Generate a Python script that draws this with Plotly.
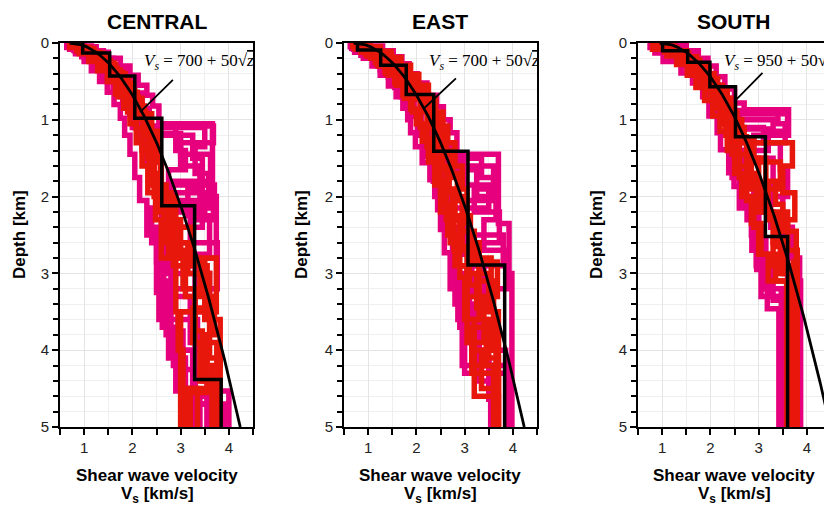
import numpy as np
import plotly.graph_objects as go

PINK = "#e6007e"
RED = "#e8170c"
SANS = "Liberation Sans, Arial, sans-serif"
SERIF = "Liberation Serif, Times New Roman, serif"

panels = ["CENTRAL", "EAST", "SOUTH"]
formula_a = [700, 700, 950]   # Vs = a + b*sqrt(z)  (m/s, z in m)
formula_b = [50, 50, 50]
formula_text = ["700", "700", "950"]

# ---- representative (black) step profiles: layer tops [km], velocities [km/s]
black_z = [
    [0, 0.13, 0.43, 0.98, 2.12, 4.38],
    [0, 0.09, 0.29, 0.67, 1.41, 2.89],
    [0, 0.10, 0.25, 0.57, 1.22, 2.52],
]
black_v = [
    [0.97, 1.53, 2.05, 2.61, 3.29, 3.84],
    [0.78, 1.26, 1.79, 2.36, 3.07, 3.83],
    [1.01, 1.53, 1.99, 2.52, 3.14, 3.60],
]

# ---- CENTRAL profiles
central_pink_z = [
    [0, 0.06, 0.14, 0.24, 0.36, 0.5, 0.64, 0.8, 0.98, 1.2, 1.45, 1.75, 2.05, 2.5, 3.25, 3.7, 4.2, 4.65],
    [0, 0.05, 0.12, 0.2, 0.3, 0.42, 0.55, 0.68, 0.82, 1.05, 2.0, 2.8],
    [0, 0.08, 0.18, 0.3, 0.45, 0.62, 0.85, 1.1, 1.35, 1.7, 2.1, 2.45, 3.1, 3.8, 4.53],
    [0, 0.1, 0.22, 0.35, 0.5, 0.7, 0.92, 1.2, 1.5, 1.9, 2.25, 2.75, 3.3, 3.9, 4.4],
    [0, 0.04, 0.1, 0.2, 0.33, 0.48, 0.65, 0.85, 1.08, 1.3, 1.6, 2.0, 2.3, 2.9, 3.4, 4.1, 4.6],
    [0, 0.07, 0.16, 0.27, 0.4, 0.58, 0.78, 1.0, 1.25, 1.55, 1.85, 2.15, 2.6, 3.2, 3.6, 4.0, 4.5],
    [0, 0.05, 0.13, 0.22, 0.34, 0.47, 0.6, 0.75, 0.92, 1.1, 1.4, 1.65, 1.95, 2.2, 2.7, 3.0, 3.5, 4.0, 4.7],
    [0, 0.09, 0.2, 0.32, 0.46, 0.6, 0.78, 0.96, 1.18, 1.45, 1.8, 2.05, 2.4, 2.85, 3.3, 3.75, 4.25, 4.7],
]
central_pink_v = [
    [0.64, 0.82, 1.0, 1.15, 1.32, 1.48, 1.62, 1.75, 1.84, 1.95, 2.05, 2.15, 2.3, 2.5, 2.62, 2.85, 3.02, 3.4],
    [1.0, 1.25, 1.5, 1.75, 1.95, 2.12, 2.3, 2.42, 2.55, 3.66, 3.74, 3.3],
    [0.7, 0.95, 1.2, 1.4, 1.62, 1.82, 2.0, 3.5, 3.3, 3.58, 2.6, 2.55, 2.7, 2.9, 4.0],
    [0.8, 1.1, 1.35, 1.55, 1.75, 1.95, 2.15, 3.25, 3.45, 3.15, 3.6, 2.8, 3.2, 3.45, 3.55],
    [0.9, 1.15, 1.4, 1.6, 1.85, 2.0, 2.2, 2.35, 3.68, 3.0, 3.4, 3.68, 3.2, 2.6, 2.75, 3.1, 3.55],
    [0.72, 0.98, 1.22, 1.42, 1.6, 1.8, 1.98, 2.12, 2.25, 2.45, 3.7, 2.4, 3.76, 2.55, 3.35, 3.0, 3.2],
    [0.68, 0.9, 1.1, 1.3, 1.5, 1.68, 1.85, 1.95, 2.05, 2.9, 3.1, 2.75, 3.5, 2.65, 2.7, 3.6, 2.95, 3.25, 3.65],
    [0.78, 1.02, 1.28, 1.5, 1.7, 1.88, 2.05, 2.2, 3.0, 3.62, 2.85, 3.45, 2.5, 2.65, 2.8, 3.05, 3.3, 3.9],
]
central_red_z = [
    [0, 0.06, 0.14, 0.24, 0.36, 0.5, 0.66, 0.85, 1.05, 1.3, 1.6, 1.95, 2.3, 2.8, 3.5, 4.0, 4.5],
    [0, 0.05, 0.12, 0.2, 0.32, 0.46, 0.62, 0.8, 1.0, 1.3, 1.7, 2.1, 2.8, 3.5, 4.1],
    [0, 0.08, 0.17, 0.28, 0.42, 0.58, 0.76, 0.95, 1.2, 1.55, 1.9, 2.3, 2.75, 3.3, 3.9, 4.55],
    [0, 0.04, 0.1, 0.18, 0.28, 0.4, 0.55, 0.72, 0.92, 1.15, 1.5, 2.0, 2.4, 2.85, 3.6, 4.2],
    [0, 0.1, 0.2, 0.34, 0.5, 0.7, 0.9, 1.1, 1.4, 1.8, 2.2, 2.7, 3.2, 3.75, 4.35],
    [0, 0.07, 0.15, 0.26, 0.38, 0.52, 0.7, 0.9, 1.15, 1.45, 1.85, 2.25, 2.9, 3.5, 4.5],
    [0, 0.05, 0.11, 0.2, 0.3, 0.44, 0.6, 0.78, 0.98, 1.2, 1.5, 1.85, 2.2, 2.6, 3.0, 3.45, 3.9, 4.4],
    [0, 0.06, 0.13, 0.23, 0.35, 0.48, 0.64, 0.82, 1.02, 1.25, 1.55, 1.95, 2.35, 2.8, 3.3, 3.8, 4.5],
]
central_red_v = [
    [0.7, 0.9, 1.1, 1.28, 1.48, 1.65, 1.82, 1.95, 2.08, 2.2, 2.32, 2.48, 2.6, 2.9, 2.95, 3.05, 3.0],
    [0.8, 1.05, 1.3, 1.5, 1.68, 1.88, 2.05, 2.2, 2.35, 2.45, 2.55, 2.75, 3.74, 3.6, 3.82],
    [0.9, 1.15, 1.35, 1.58, 1.78, 1.95, 2.15, 2.3, 2.5, 2.6, 2.65, 3.0, 3.1, 3.3, 3.75, 3.1],
    [0.75, 0.95, 1.2, 1.45, 1.65, 1.85, 2.0, 2.2, 2.4, 2.55, 2.45, 2.9, 3.25, 3.5, 3.82, 3.65],
    [0.85, 1.1, 1.32, 1.52, 1.7, 1.9, 2.08, 2.2, 2.35, 2.5, 2.8, 3.05, 3.3, 3.45, 3.7],
    [0.95, 1.2, 1.42, 1.62, 1.8, 1.98, 2.12, 2.28, 2.4, 2.58, 2.7, 2.85, 3.55, 3.0, 3.35],
    [0.78, 1.0, 1.22, 1.45, 1.6, 1.78, 1.95, 2.1, 2.22, 2.32, 2.42, 2.6, 2.7, 3.15, 3.6, 3.25, 3.4, 3.75],
    [0.88, 1.12, 1.38, 1.55, 1.75, 1.92, 2.1, 2.25, 2.38, 2.5, 2.6, 2.8, 2.95, 3.4, 3.7, 3.55, 3.2],
]

# ---- EAST profiles
east_pink_z = [
    [0, 0.05, 0.12, 0.2, 0.3, 0.42, 0.56, 0.7, 0.85, 1.0, 1.17, 1.35, 1.56, 1.78, 2.0, 2.17, 2.43, 2.73, 2.95, 3.6, 3.86, 4.16, 4.64],
    [0, 0.04, 0.1, 0.18, 0.27, 0.4, 0.52, 0.68, 0.83, 1.0, 1.17, 1.45, 2.35, 3.0],
    [0, 0.08, 0.18, 0.3, 0.45, 0.6, 0.78, 0.95, 1.15, 1.5, 1.75, 2.05, 2.3, 2.75, 3.2, 3.7, 4.2],
    [0, 0.06, 0.14, 0.24, 0.36, 0.5, 0.66, 0.85, 1.05, 1.3, 1.6, 1.9, 2.2, 2.6, 3.3, 3.8, 4.3],
    [0, 0.1, 0.2, 0.35, 0.5, 0.7, 0.9, 1.1, 1.4, 1.7, 2.0, 2.4, 2.9, 3.4, 4.0],
    [0, 0.07, 0.16, 0.28, 0.42, 0.58, 0.75, 0.95, 1.2, 1.48, 1.8, 2.1, 2.5, 3.0, 3.5, 4.1, 4.6],
    [0, 0.05, 0.13, 0.22, 0.33, 0.46, 0.6, 0.76, 0.92, 1.1, 1.3, 1.55, 1.85, 2.15, 2.5, 2.9, 3.4, 3.9, 4.4],
    [0, 0.06, 0.15, 0.26, 0.38, 0.52, 0.68, 0.88, 1.1, 1.35, 1.65, 2.0, 2.3, 2.7, 3.2, 3.7, 4.2],
]
east_pink_v = [
    [0.63, 0.72, 0.9, 1.08, 1.25, 1.42, 1.58, 1.72, 1.82, 1.88, 1.98, 2.12, 2.28, 2.38, 2.44, 2.5, 2.58, 2.72, 2.86, 2.99, 3.16, 3.5, 3.54],
    [1.0, 1.3, 1.52, 1.7, 1.85, 2.02, 2.22, 2.42, 2.56, 2.7, 2.84, 3.7, 3.92, 3.98],
    [0.7, 0.95, 1.2, 1.42, 1.62, 1.8, 1.95, 2.1, 2.3, 3.35, 3.6, 2.6, 3.05, 2.7, 3.1, 2.95, 3.6],
    [0.85, 1.15, 1.38, 1.6, 1.78, 1.98, 2.15, 2.35, 2.5, 2.7, 3.6, 3.2, 3.72, 3.15, 3.3, 3.0, 3.9],
    [0.75, 1.0, 1.25, 1.48, 1.68, 1.85, 2.02, 2.2, 2.4, 2.55, 2.7, 2.85, 3.4, 3.2, 3.85],
    [0.66, 0.85, 1.1, 1.35, 1.55, 1.75, 1.9, 2.05, 2.2, 2.35, 2.45, 2.6, 2.75, 2.95, 3.3, 3.5, 3.58],
    [0.7, 0.9, 1.15, 1.32, 1.5, 1.68, 1.82, 1.95, 2.05, 2.18, 2.35, 3.0, 3.5, 2.75, 3.8, 2.8, 3.05, 3.3, 3.55],
    [0.9, 1.2, 1.45, 1.65, 1.82, 2.02, 2.2, 2.38, 2.55, 2.72, 3.25, 3.65, 3.4, 3.9, 2.9, 3.15, 3.95],
]
east_red_z = [
    [0, 0.05, 0.12, 0.2, 0.3, 0.42, 0.55, 0.7, 0.87, 1.05, 1.25, 1.5, 1.8, 2.1, 2.5, 2.9, 3.6, 4.2],
    [0, 0.04, 0.1, 0.18, 0.28, 0.4, 0.53, 0.68, 0.84, 1.02, 1.22, 1.45, 1.75, 2.05, 2.45, 2.85, 3.3, 3.85],
    [0, 0.06, 0.14, 0.24, 0.35, 0.48, 0.62, 0.78, 0.95, 1.15, 1.4, 1.7, 2.0, 2.35, 2.8, 3.3, 3.9],
    [0, 0.08, 0.17, 0.28, 0.4, 0.55, 0.72, 0.9, 1.1, 1.35, 1.65, 1.95, 2.3, 2.7, 3.1, 3.7, 4.3],
    [0, 0.05, 0.11, 0.19, 0.29, 0.41, 0.55, 0.72, 0.9, 1.08, 1.3, 1.6, 1.9, 2.25, 2.6, 3.0, 3.5, 4.0, 4.5],
    [0, 0.07, 0.15, 0.25, 0.38, 0.52, 0.68, 0.86, 1.05, 1.28, 1.55, 1.85, 2.2, 2.6, 3.05, 3.6, 4.2],
    [0, 0.04, 0.11, 0.19, 0.3, 0.43, 0.57, 0.73, 0.9, 1.1, 1.35, 1.65, 1.95, 2.3, 2.7, 3.15, 3.6, 4.1],
    [0, 0.07, 0.16, 0.27, 0.39, 0.53, 0.7, 0.88, 1.08, 1.3, 1.6, 1.9, 2.25, 2.65, 3.0, 3.45, 4.0, 4.6],
]
east_red_v = [
    [0.68, 0.85, 1.05, 1.22, 1.42, 1.6, 1.78, 1.9, 2.02, 2.15, 2.3, 2.42, 2.55, 2.65, 2.8, 3.05, 3.2, 3.62],
    [0.8, 1.05, 1.3, 1.5, 1.68, 1.85, 2.02, 2.2, 2.35, 2.48, 2.62, 2.75, 2.85, 2.95, 3.2, 3.68, 3.4, 3.7],
    [0.9, 1.2, 1.42, 1.62, 1.8, 1.98, 2.15, 2.3, 2.45, 2.58, 2.72, 2.88, 3.0, 3.1, 3.55, 3.05, 3.65],
    [0.75, 0.98, 1.18, 1.38, 1.58, 1.75, 1.92, 2.08, 2.22, 2.38, 2.5, 2.62, 2.78, 3.3, 3.6, 3.15, 3.7],
    [0.95, 1.25, 1.48, 1.68, 1.88, 2.05, 2.25, 2.4, 2.55, 2.65, 2.8, 2.95, 3.05, 3.12, 3.3, 3.5, 3.7, 3.35, 3.68],
    [0.72, 0.95, 1.15, 1.35, 1.55, 1.72, 1.88, 2.0, 2.12, 2.25, 2.38, 2.5, 2.7, 2.9, 3.0, 3.45, 3.6],
    [0.75, 0.95, 1.2, 1.4, 1.58, 1.75, 1.92, 2.08, 2.22, 2.35, 2.5, 2.62, 2.75, 2.9, 3.1, 3.3, 3.5, 3.7],
    [0.85, 1.08, 1.32, 1.52, 1.7, 1.9, 2.08, 2.25, 2.4, 2.55, 2.68, 2.8, 2.95, 3.05, 3.25, 3.6, 3.2, 3.7],
]

# ---- SOUTH profiles
south_pink_z = [
    [0, 0.06, 0.13, 0.24, 0.39, 0.52, 0.7, 0.95, 1.17, 1.39, 1.69, 1.87, 2.04, 2.3, 2.7, 2.95, 3.2, 3.46],
    [0, 0.03, 0.1, 0.2, 0.3, 0.44, 0.6, 0.78, 0.87, 1.2, 1.5, 2.0, 2.6, 3.1],
    [0, 0.08, 0.18, 0.3, 0.45, 0.6, 0.8, 0.92, 1.05, 1.3, 1.6, 2.0, 2.4, 2.9, 3.3],
    [0, 0.05, 0.12, 0.22, 0.35, 0.5, 0.68, 0.88, 1.0, 1.12, 1.4, 1.8, 2.2, 2.55, 3.0, 3.35],
    [0, 0.1, 0.2, 0.32, 0.47, 0.64, 0.84, 1.05, 1.35, 1.7, 2.1, 2.5, 2.85, 3.2],
    [0, 0.04, 0.11, 0.2, 0.31, 0.45, 0.62, 0.8, 0.92, 1.15, 1.4, 1.75, 2.15, 2.5, 2.9, 3.3],
    [0, 0.07, 0.16, 0.27, 0.4, 0.55, 0.72, 0.88, 1.1, 1.3, 1.65, 2.0, 2.4, 2.8, 3.2],
]
south_pink_v = [
    [0.75, 0.85, 1.02, 1.39, 1.63, 1.84, 1.97, 2.14, 2.21, 2.38, 2.49, 2.62, 2.76, 2.86, 2.96, 3.08, 3.18, 3.42],
    [1.2, 1.5, 1.75, 1.95, 2.12, 2.3, 2.5, 2.7, 3.62, 2.9, 3.3, 3.5, 3.6, 3.87],
    [0.85, 1.15, 1.45, 1.65, 1.85, 2.05, 2.2, 3.4, 3.55, 2.6, 2.75, 3.0, 3.1, 3.25, 3.5],
    [0.8, 1.0, 1.3, 1.55, 1.75, 1.95, 2.1, 2.3, 3.3, 2.5, 2.65, 2.9, 3.0, 3.15, 3.3, 3.82],
    [0.95, 1.25, 1.5, 1.72, 1.92, 2.1, 2.3, 2.5, 2.55, 2.7, 2.95, 3.05, 3.15, 3.47],
    [0.78, 0.98, 1.25, 1.48, 1.68, 1.88, 2.02, 2.18, 3.6, 3.2, 2.45, 2.6, 2.85, 2.95, 3.05, 3.5],
    [1.1, 1.4, 1.65, 1.85, 2.05, 2.22, 2.42, 2.6, 3.1, 3.45, 3.6, 3.25, 3.7, 3.85, 3.85],
]
south_red_z = [
    [0, 0.05, 0.12, 0.2, 0.3, 0.43, 0.58, 0.75, 0.95, 1.2, 1.45, 1.75, 2.05, 2.4, 2.75, 3.1],
    [0, 0.04, 0.1, 0.18, 0.28, 0.4, 0.55, 0.72, 0.9, 1.1, 1.3, 1.6, 1.95, 2.3, 2.7],
    [0, 0.07, 0.15, 0.25, 0.38, 0.52, 0.68, 0.85, 1.05, 1.3, 1.6, 1.9, 2.2, 2.6, 3.0],
    [0, 0.06, 0.13, 0.22, 0.33, 0.46, 0.62, 0.8, 1.0, 1.25, 1.5, 1.8, 2.1, 2.45, 2.85],
    [0, 0.08, 0.17, 0.28, 0.42, 0.58, 0.75, 0.95, 1.15, 1.4, 1.7, 2.0, 2.35, 2.75, 3.1],
    [0, 0.05, 0.11, 0.19, 0.3, 0.44, 0.6, 0.78, 0.98, 1.22, 1.5, 1.85, 2.25, 2.6, 3.0],
    [0, 0.05, 0.12, 0.21, 0.32, 0.45, 0.6, 0.78, 0.98, 1.2, 1.45, 1.7, 2.0, 2.3, 2.65, 3.0, 3.4],
    [0, 0.06, 0.14, 0.24, 0.36, 0.5, 0.66, 0.84, 1.04, 1.28, 1.55, 1.9, 2.2, 2.55, 2.9, 3.2],
]
south_red_v = [
    [0.85, 1.05, 1.35, 1.55, 1.75, 1.92, 2.08, 2.2, 2.32, 2.45, 2.6, 2.75, 2.9, 3.0, 3.2, 3.65],
    [1.0, 1.25, 1.5, 1.72, 1.9, 2.08, 2.25, 2.42, 2.55, 2.7, 3.7, 3.5, 3.75, 3.6, 3.8],
    [0.9, 1.15, 1.42, 1.62, 1.82, 2.0, 2.15, 2.3, 2.45, 2.6, 2.85, 3.1, 3.3, 3.45, 3.7],
    [1.05, 1.3, 1.55, 1.78, 1.98, 2.15, 2.35, 2.5, 2.65, 2.9, 3.15, 3.35, 3.5, 3.78, 3.72],
    [0.8, 1.1, 1.3, 1.52, 1.7, 1.88, 2.05, 2.2, 2.35, 2.5, 2.65, 2.85, 3.05, 3.35, 3.58],
    [0.95, 1.2, 1.45, 1.68, 1.88, 2.05, 2.2, 2.38, 2.55, 2.75, 3.0, 3.2, 3.4, 3.55, 3.77],
    [0.92, 1.15, 1.38, 1.6, 1.8, 1.98, 2.12, 2.28, 2.42, 2.55, 2.75, 2.95, 3.2, 3.35, 3.5, 3.65, 3.7],
    [1.0, 1.22, 1.48, 1.7, 1.9, 2.08, 2.25, 2.42, 2.6, 2.8, 3.45, 3.0, 3.6, 3.3, 3.72, 3.75],
]

pink_z = [central_pink_z, east_pink_z, south_pink_z]
pink_v = [central_pink_v, east_pink_v, south_pink_v]
red_z = [central_red_z, east_red_z, south_red_z]
red_v = [central_red_v, east_red_v, south_red_v]

ZMAX = 5.0
x_ticks = [1, 2, 3, 4]
y_ticks = [0, 1, 2, 3, 4, 5]


def steps(z, v, zmax=ZMAX):
    xs, ys = [], []
    for i, vel in enumerate(v):
        top = z[i]
        bot = z[i + 1] if i + 1 < len(z) else zmax
        xs += [vel, vel]
        ys += [top, bot]
    return xs, ys


fig = go.Figure()
for p in range(3):
    xa = "x" if p == 0 else f"x{p+1}"
    ya = "y" if p == 0 else f"y{p+1}"
    for zz, vv in zip(pink_z[p], pink_v[p]):
        xs, ys = steps(zz, vv)
        fig.add_trace(go.Scatter(x=xs, y=ys, mode="lines", xaxis=xa, yaxis=ya,
                                 line=dict(color=PINK, width=5.5), hoverinfo="skip", showlegend=False))
    for zz, vv in zip(red_z[p], red_v[p]):
        xs, ys = steps(zz, vv)
        fig.add_trace(go.Scatter(x=xs, y=ys, mode="lines", xaxis=xa, yaxis=ya,
                                 line=dict(color=RED, width=5.5), hoverinfo="skip", showlegend=False))
    xs, ys = steps(black_z[p], black_v[p])
    fig.add_trace(go.Scatter(x=xs, y=ys, mode="lines", xaxis=xa, yaxis=ya,
                             line=dict(color="black", width=3.5), hoverinfo="skip", showlegend=False))
    # model curve Vs = a + b*sqrt(z), z in metres
    zc = np.linspace(0, ZMAX, 201)
    vc = (formula_a[p] + formula_b[p] * np.sqrt(zc * 1000.0)) / 1000.0
    fig.add_trace(go.Scatter(x=vc, y=zc, mode="lines", xaxis=xa, yaxis=ya,
                             line=dict(color="black", width=2.8), hoverinfo="skip", showlegend=False))

W, H = 824, 506
xdom = [(60, 253), (344, 537), (638, 824)]
top_px, bot_px = 43, 427
ydom = [1 - bot_px / H, 1 - top_px / H]
xranges = [[0.5, 4.5], [0.5, 4.5], [0.5, 0.5 + (824 - 638) / 48.25]]

layout = dict(width=W, height=H, margin=dict(l=0, r=0, t=0, b=0),
              paper_bgcolor="white", plot_bgcolor="white", showlegend=False)
for p in range(3):
    sx = "" if p == 0 else str(p + 1)
    layout["xaxis" + sx] = dict(
        domain=[xdom[p][0] / W, xdom[p][1] / W], anchor="y" + sx, range=xranges[p],
        tickvals=x_ticks, ticks="outside", ticklen=6, tickwidth=1.5, tickcolor="black",
        showline=True, linecolor="black", linewidth=2, mirror=True,
        showgrid=True, gridcolor="#e4e4e4", gridwidth=1, zeroline=False,
        tickfont=dict(family=SANS, size=15, color="#222"),
        minor=dict(dtick=0.5, tick0=0, ticks="outside", ticklen=6, tickwidth=1.5, tickcolor="black",
                   showgrid=True, gridcolor="#efefef", gridwidth=1),
        automargin=False, fixedrange=True)
    layout["yaxis" + sx] = dict(
        domain=ydom, anchor="x" + sx, range=[ZMAX, 0],
        tickvals=y_ticks, ticks="outside", ticklen=6, tickwidth=1.5, tickcolor="black",
        showline=True, linecolor="black", linewidth=2, mirror=(p < 2),
        showgrid=True, gridcolor="#e4e4e4", gridwidth=1, zeroline=False,
        tickfont=dict(family=SANS, size=15, color="#222"),
        minor=dict(dtick=0.2, tick0=0, ticks="outside", ticklen=5, tickwidth=1.5, tickcolor="black",
                   showgrid=True, gridcolor="#efefef", gridwidth=1),
        automargin=False, fixedrange=True)
fig.update_layout(**layout)

anns = []
shapes = []
title_cx = [157, 440.5, 734]
ytitle_x = [19, 301, 596]
formula_x = [2.2, 2.22, 2.24]
leader = [((2.84, 0.48), (2.16, 0.90)), ((2.82, 0.46), (2.16, 0.85)), ((3.08, 0.39), (2.53, 0.74))]
for p in range(3):
    sx = "" if p == 0 else str(p + 1)
    anns.append(dict(text=f"<b>{panels[p]}</b>", x=title_cx[p] / W, y=1 - 21.5 / H, xref="paper", yref="paper",
                     xanchor="center", yanchor="middle", showarrow=False,
                     font=dict(family=SANS, size=21, color="black")))
    anns.append(dict(text="<b>Depth [km]</b>", x=ytitle_x[p] / W, y=1 - 235 / H, xref="paper", yref="paper",
                     xanchor="center", yanchor="middle", textangle=-90, showarrow=False,
                     font=dict(family=SANS, size=17, color="black")))
    anns.append(dict(text="<b>Shear wave velocity</b>", x=title_cx[p] / W, y=1 - 475 / H, xref="paper", yref="paper",
                     xanchor="center", yanchor="middle", showarrow=False,
                     font=dict(family=SANS, size=17, color="black")))
    anns.append(dict(text="<b>V<sub>s</sub> [km/s]</b>", x=title_cx[p] / W, y=1 - 495 / H, xref="paper", yref="paper",
                     xanchor="center", yanchor="middle", showarrow=False,
                     font=dict(family=SANS, size=17, color="black")))
    anns.append(dict(text=f"<i>V<sub>s</sub></i> = {formula_text[p]} + 50√<span style='text-decoration:overline'><i>z</i></span>",
                     x=formula_x[p], y=0.25, xref="x" + sx, yref="y" + sx,
                     xanchor="left", yanchor="middle", showarrow=False,
                     font=dict(family=SERIF, size=17, color="black")))
    (x0, y0), (x1, y1) = leader[p]
    shapes.append(dict(type="line", xref="x" + sx, yref="y" + sx, x0=x0, y0=y0, x1=x1, y1=y1,
                       line=dict(color="black", width=1.8)))
fig.update_layout(annotations=anns, shapes=shapes)

fig.write_html("out.html")
